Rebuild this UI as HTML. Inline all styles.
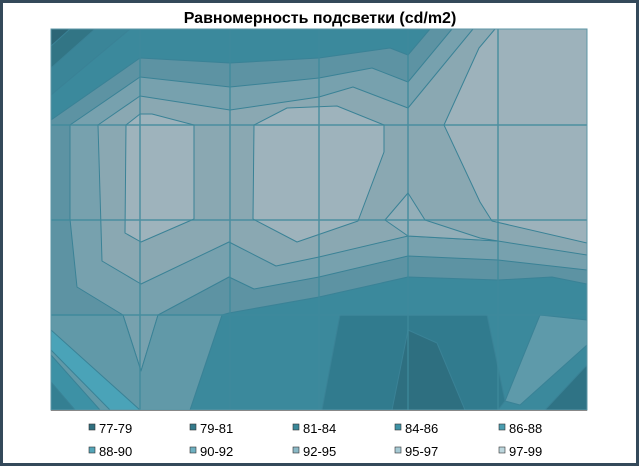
<!DOCTYPE html>
<html><head><meta charset="utf-8"><style>
html,body{margin:0;padding:0;background:#fff}
.wrap{position:relative;width:639px;height:466px;box-sizing:border-box;border:3px solid #34495a;background:#fff;overflow:hidden}
svg{position:absolute;left:-3px;top:-3px}
</style></head><body><div class="wrap">
<svg width="639" height="466" viewBox="0 0 639 466" xmlns="http://www.w3.org/2000/svg" font-family="Liberation Sans, Arial, sans-serif">
<text x="320" y="23" text-anchor="middle" font-size="16" font-weight="bold" fill="#000">Равномерность подсветки (cd/m2)</text>
<defs><clipPath id="c"><rect x="51" y="29" width="536" height="381"/></clipPath></defs>
<g clip-path="url(#c)" stroke="#3a8296" stroke-width="1" stroke-linejoin="round">
<rect x="51" y="29" width="536" height="381" fill="#3b899c" stroke="none"/>
<polygon fill="#3a8598" points="51,29 130,29 51,95"/>
<polygon fill="#327585" points="51,29 95,29 51,68"/>
<polygon fill="#2d6676" points="51,29 70,29 51,46"/>
<polygon fill="#5d93a3" points="51,120 140,58 230,63 319,58 390,48 408,55 430,29 587,29 587,284 552,277 498,280 408,277 319,297 229,313 222,315 190,410 80,410 51,360"/>
<polygon fill="#77a1ae" points="70,125 140,77 230,87 319,78 372,68 408,82 452,29 587,29 587,270 498,260 408,256 319,277 254,289 229,277 158,315 141,371 123,315 77,287 70,219"/>
<polygon fill="#8aa8b2" points="98,125 140,96 230,110 319,97 353,87 408,108 473,29 587,29 587,255 498,241 408,236 319,257 276,266 229,242 141,284 102,261"/>
<polygon fill="#93aeb8" points="385,220 408,193 425,220 480,238 498,241 408,236"/>
<polygon fill="#9eb3bc" points="126,125 140,114 152,114 194,125 194,219 141,242 125,233"/>
<polygon fill="#9eb3bc" points="254,125 287,108 337,106 384,125 384,152 358,221 297,242 253,219"/>
<polygon fill="#9db2bb" points="495,29 587,29 587,243 492,221 480,202 444,125 479,48"/>
<polygon fill="#6199a8" points="51,315 123,315 141,371 158,315 222,315 190,410 51,410"/>
<polygon fill="#4aa3b8" points="51,330 51,350 110,410 140,410"/>
<polygon fill="#3d91a5" points="51,355 51,410 100,410"/>
<polygon fill="#347f92" points="51,382 51,410 75,410"/>
<polygon fill="#317b8e" points="340,315 487,315 505,401 498,410 322,410"/>
<polygon fill="#2e6f80" points="408,330 437,343 465,410 392,410"/>
<polygon fill="#5e9aaa" points="540,315 587,320 587,345 520,405 505,401"/>
<polygon fill="#2f7385" points="587,365 587,410 545,410"/>
</g>
<g stroke="#3f8a9c" stroke-width="1.5" opacity="0.85">
<line x1="140" y1="29" x2="140" y2="410"/><line x1="230" y1="29" x2="230" y2="410"/>
<line x1="319" y1="29" x2="319" y2="410"/><line x1="408" y1="29" x2="408" y2="410"/>
<line x1="498" y1="29" x2="498" y2="410"/>
<line x1="51" y1="125" x2="587" y2="125"/><line x1="51" y1="220" x2="587" y2="220"/>
<line x1="51" y1="315" x2="587" y2="315"/>
</g>
<rect x="51" y="29" width="536" height="381" fill="none" stroke="#5c95a5" stroke-width="1"/>
<line x1="51" y1="410.5" x2="587" y2="410.5" stroke="#888" stroke-width="1"/>
<g font-size="13" fill="#000" stroke="#333" stroke-width="0.6">
<rect x="89" y="424" width="6" height="6" fill="#2f6f7f"/><text x="99" y="433" stroke="none">77-79</text>
<rect x="190" y="424" width="6" height="6" fill="#347b8c"/><text x="200" y="433" stroke="none">79-81</text>
<rect x="293" y="424" width="6" height="6" fill="#3a8899"/><text x="303" y="433" stroke="none">81-84</text>
<rect x="395" y="424" width="6" height="6" fill="#3f93a6"/><text x="405" y="433" stroke="none">84-86</text>
<rect x="499" y="424" width="6" height="6" fill="#4a9db0"/><text x="509" y="433" stroke="none">86-88</text>
<rect x="89" y="447" width="6" height="6" fill="#54a5b8"/><text x="99" y="456" stroke="none">88-90</text>
<rect x="190" y="447" width="6" height="6" fill="#6eb0c1"/><text x="200" y="456" stroke="none">90-92</text>
<rect x="293" y="447" width="6" height="6" fill="#8ab9c6"/><text x="303" y="456" stroke="none">92-95</text>
<rect x="395" y="447" width="6" height="6" fill="#a6cad4"/><text x="405" y="456" stroke="none">95-97</text>
<rect x="499" y="447" width="6" height="6" fill="#bcd6dd"/><text x="509" y="456" stroke="none">97-99</text>
</g>
</svg></div></body></html>
